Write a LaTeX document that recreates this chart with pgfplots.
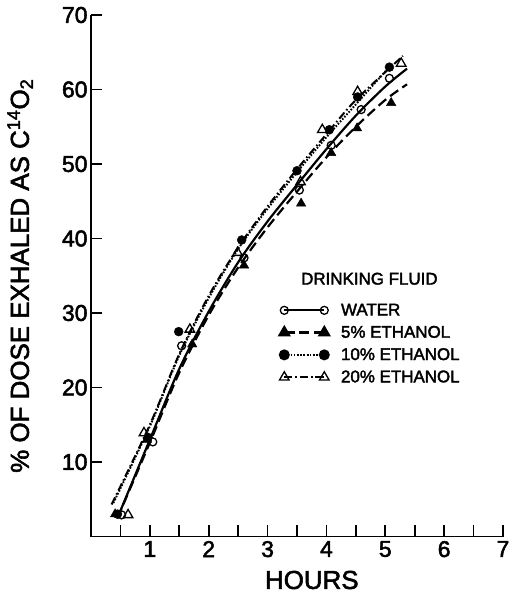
\documentclass[border=0pt]{standalone}
\usepackage{fontspec}
\setmainfont{Liberation Sans}[FakeBold=2.2]
\usepackage{pgfplots}
\pgfplotsset{compat=1.18}
\pgfplotsset{
  legwater/.style={legend image code/.code={\draw[##1, mark=o, mark size=4pt, mark options={solid, fill=white, line width=1.3pt}] plot coordinates {(0bp,0bp) (40bp,0bp)};}},
  legfive/.style={legend image code/.code={\draw[##1, mark=triangle*, mark size=5.5pt, mark options={solid, fill=black}] plot coordinates {(0bp,0bp) (40bp,0bp)};}},
  legten/.style={legend image code/.code={\draw[##1, mark=*, mark size=4.5pt, mark options={solid, fill=black}] plot coordinates {(0bp,0bp) (40bp,0bp)};}},
  legtwenty/.style={legend image code/.code={\draw[##1, mark=triangle, mark size=5.5pt, mark options={solid, fill=white, line width=1.3pt}] plot coordinates {(0bp,0bp) (40bp,0bp)};}},
}
\begin{document}
\begin{tikzpicture}
\path[use as bounding box] (0,0) rectangle (512bp,593bp);
\begin{axis}[
  at={(91bp,56.5bp)}, anchor=south west,
  scale only axis, width=412bp, height=521.5bp,
  xmin=0, xmax=7, ymin=0, ymax=70,
  axis x line*=bottom, axis y line*=left,
  axis line style={line width=2pt},
  clip=false,
  xtick={0.5,1,1.5,2,2.5,3,3.5,4,4.5,5,5.5,6,6.5,7},
  xticklabels={,1,,2,,3,,4,,5,,6,,7},
  ytick={10,20,30,40,50,60,70},
  xtick align=inside, ytick align=inside,
  major tick length=11bp,
  tick style={line width=1.8pt, black},
  /pgf/number format/assume math mode=true,
  ticklabel style={font=\fontsize{23}{26}\selectfont},
  xticklabel style={yshift=-1bp},
  xlabel={HOURS},
  ylabel={\% OF DOSE EXHALED AS C\textsuperscript{14}O\textsubscript{2}},
  xlabel style={at={(axis description cs:0.536,-0.0834)}, anchor=center, font=\fontsize{26}{30}\selectfont},
  ylabel style={at={(axis description cs:-0.172,0.5)}, anchor=center, font=\fontsize{26}{30}\selectfont},
  legend style={draw=none, fill=none, at={(axis cs:3.2,31.4)}, anchor=north west,
    font=\fontsize{17}{19}\selectfont, row sep=7bp, inner sep=0pt,
    nodes={inner sep=1pt},
    /tikz/every odd column/.append style={column sep=11bp}},
  legend cell align=left,
]
% fitted curves
\addplot[black, line width=2.2pt, smooth, legwater]
  coordinates {(0.45,2.5) (1,13) (1.5,22.5) (2,30.2) (2.5,36.8) (3,42.3) (3.5,47.2) (4,52) (4.5,56.5) (5,60.4) (5.37,62.8)};
\addlegendentry{WATER}
\addplot[black, line width=2.2pt, smooth, dash pattern=on 10pt off 5pt, legfive]
  coordinates {(0.45,2.5) (1,12.6) (1.5,22) (2,29.7) (2.5,36.1) (3,41.5) (3.5,46.3) (4,50.9) (4.5,55) (5,58.6) (5.37,60.7)};
\addlegendentry{5\% ETHANOL}
\addplot[black, line width=2pt, smooth, dash pattern=on 1.6pt off 1.6pt, legten]
  coordinates {(0.38,4.5) (1,14.8) (1.5,24.3) (2,32) (2.5,38.6) (3,44) (3.5,48.9) (4,53.6) (4.5,58) (5.1,63.3)};
\addlegendentry{10\% ETHANOL}
\addplot[black, line width=2pt, smooth, dash pattern=on 8pt off 3pt on 1.6pt off 3pt, legtwenty]
  coordinates {(0.35,4.3) (1,15) (1.5,24.5) (2,32.3) (2.5,38.8) (3,44.3) (3.5,49.3) (4,54) (4.5,58.6) (5.3,64.5)};
\addlegendentry{20\% ETHANOL}
% data points
\addplot[only marks, mark=triangle*, mark size=5.5pt, mark options={fill=black, draw=black}, forget plot]
  coordinates {(0.41,3.0) (0.95,13.0) (1.72,25.8) (2.6,36.4) (3.57,44.7) (4.08,51.5) (4.52,54.8) (5.1,58.2)};
\addplot[only marks, mark=*, mark size=4.5pt, mark options={fill=black, draw=black}, forget plot]
  coordinates {(0.45,3.0) (0.97,13.3) (1.49,27.5) (2.56,39.8) (3.5,49.1) (4.05,54.6) (4.53,59) (5.07,63)};
\addplot[only marks, mark=triangle, mark size=5.5pt, mark options={fill=white, draw=black, line width=1.3pt}, forget plot]
  coordinates {(0.63,2.9) (0.9,13.9) (1.68,27.8) (2.49,38.1) (3.56,47.6) (3.93,54.6) (4.53,59.7) (5.27,63.5)};
\addplot[only marks, mark=o, mark size=4pt, mark options={fill=white, draw=black, line width=1.3pt}, forget plot]
  coordinates {(0.52,2.9) (1.05,12.7) (1.54,25.6) (2.6,37.4) (3.54,46.5) (4.08,52.5) (4.59,57.3) (5.07,61.5)};
\node[font=\fontsize{17}{19}\selectfont] at (axis cs:4.73,34.6) {DRINKING FLUID};
\end{axis}
\end{tikzpicture}
\end{document}
